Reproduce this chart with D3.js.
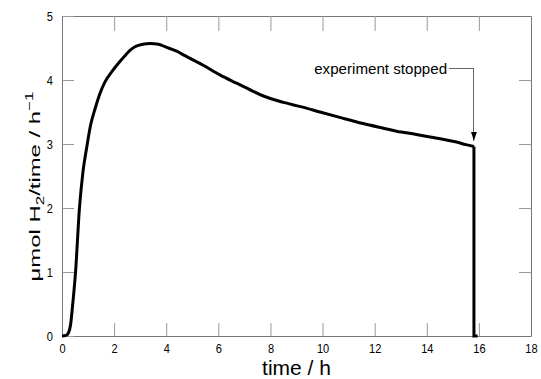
<!DOCTYPE html>
<html>
<head>
<meta charset="utf-8">
<script src="https://cdn.jsdelivr.net/npm/d3@7"></script>
<style>
  body { margin: 0; background: #fff; }
  svg { display: block; }
  .tick text { font-family: "Liberation Sans", Arial, sans-serif; font-size: 13px; fill: #000; }
</style>
</head>
<body>
<svg id="chart"></svg>
<script>
// H2 production rate over time
const timeH = [0, 0.15, 0.25, 0.33, 0.4, 0.52, 0.67, 0.8, 0.95, 1.1, 1.27, 1.45, 1.65, 1.95, 2.29,
  2.6, 2.8, 3.1, 3.38, 3.7, 3.95, 4.4, 4.72, 5.42, 6.06, 6.7, 7.3, 7.73, 8.5, 9.2, 9.9, 10.8,
  11.56, 12.3, 12.84, 13.6, 14.25, 14.8, 15.14, 15.5, 15.81];
const rate = [0, 0.01, 0.05, 0.18, 0.45, 1.0, 2.0, 2.55, 2.95, 3.3, 3.55, 3.78, 3.97, 4.15, 4.32,
  4.46, 4.52, 4.56, 4.57, 4.56, 4.52, 4.45, 4.38, 4.23, 4.08, 3.95, 3.83, 3.75, 3.65, 3.58, 3.5, 3.4,
  3.32, 3.25, 3.2, 3.15, 3.1, 3.06, 3.03, 2.99, 2.96];
// drop to zero when the experiment was stopped
const stopTime = [15.81, 15.81, 15.95];
const stopRate = [2.96, 0, 0];

const xTicks = [0, 2, 4, 6, 8, 10, 12, 14, 16, 18];
const yTicks = [0, 1, 2, 3, 4, 5];

// annotation "experiment stopped"
const noteText = "experiment stopped";
const noteTextEnd = [14.78, 4.09];
const noteLeader = [[14.85, 4.18], [15.81, 4.18], [15.81, 3.05]];

const margin = { top: 16, right: 10, bottom: 43, left: 62 };
const W = 541, H = 379;
const width = W - margin.left - margin.right;
const height = H - margin.top - margin.bottom;

const svg = d3.select("#chart").attr("width", W).attr("height", H);
const g = svg.append("g").attr("transform", "translate(" + margin.left + "," + margin.top + ")");

const x = d3.scaleLinear().domain([0, 18]).range([0, width]);
const y = d3.scaleLinear().domain([0, 5]).range([height, 0]);

const narrow = 0.85; // tick labels in the picture are a narrow face

function styleAxis(sel) {
  sel.select(".domain").attr("stroke", "#777");
  sel.selectAll(".tick line").attr("stroke", "#999");
  sel.selectAll(".tick text").attr("transform", "scale(" + narrow + ",1)");
}

// bottom
g.append("g").attr("transform", "translate(0," + height + ")")
  .call(d3.axisBottom(x).tickValues(xTicks).tickSizeInner(-13).tickSizeOuter(0).tickPadding(8))
  .call(styleAxis);
// top
g.append("g")
  .call(d3.axisTop(x).tickValues(xTicks.slice(1, -1)).tickSizeInner(-15).tickSizeOuter(0).tickFormat(""))
  .call(styleAxis);
// left
g.append("g")
  .call(d3.axisLeft(y).tickValues(yTicks).tickFormat(d3.format("d")).tickSizeInner(-12).tickSizeOuter(0).tickPadding(9 / narrow))
  .call(styleAxis);
// right
g.append("g").attr("transform", "translate(" + width + ",0)")
  .call(d3.axisRight(y).tickValues(yTicks.slice(1, -1)).tickSizeInner(-12).tickSizeOuter(0).tickFormat(""))
  .call(styleAxis);

// curve
const curveData = timeH.map((t, i) => [t, rate[i]]);
const line = d3.line().x(d => x(d[0])).y(d => y(d[1]));
g.append("path")
  .datum(curveData)
  .attr("fill", "none")
  .attr("stroke", "#000")
  .attr("stroke-width", 3)
  .attr("stroke-linejoin", "round")
  .attr("d", line.curve(d3.curveMonotoneX));

const stopData = stopTime.map((t, i) => [t, stopRate[i]]);
g.append("path")
  .datum(stopData)
  .attr("fill", "none")
  .attr("stroke", "#000")
  .attr("stroke-width", 3)
  .attr("d", d3.line().x(d => x(d[0])).y(d => y(d[1]))(stopData));

// annotation
svg.append("defs").append("marker")
  .attr("id", "arrow")
  .attr("viewBox", "0 0 9 6")
  .attr("refX", 9).attr("refY", 3)
  .attr("markerWidth", 9).attr("markerHeight", 6)
  .attr("markerUnits", "userSpaceOnUse")
  .attr("orient", "auto")
  .append("path").attr("d", "M0,0 L9,3 L0,6 Z").attr("fill", "#000");

g.append("path")
  .datum(noteLeader)
  .attr("fill", "none")
  .attr("stroke", "#666")
  .attr("stroke-width", 1)
  .attr("shape-rendering", "crispEdges")
  .attr("marker-end", "url(#arrow)")
  .attr("d", d3.line().x(d => x(d[0])).y(d => y(d[1])));

const note = g.append("text")
  .attr("font-family", "'Liberation Sans', Arial, sans-serif")
  .attr("font-size", 15)
  .attr("text-anchor", "end")
  .text(noteText);
const noteLen = note.node().getComputedTextLength();
note.attr("transform", "translate(" + x(noteTextEnd[0]) + "," + y(noteTextEnd[1]) + ") scale(" + (133 / noteLen) + ",1)");

// axis titles
g.append("text")
  .attr("x", width / 2)
  .attr("y", height + 38.5)
  .attr("text-anchor", "middle")
  .attr("font-family", "'Liberation Sans', Arial, sans-serif")
  .attr("font-size", 21)
  .text("time / h");

const yTitle = svg.append("text")
  .attr("text-anchor", "middle")
  .attr("font-family", "'Liberation Sans', Arial, sans-serif")
  .attr("font-size", 15.5);
yTitle.append("tspan").text("\u03bcmol H");
yTitle.append("tspan").attr("font-size", 11).attr("dy", 4).text("2");
yTitle.append("tspan").attr("dy", -4).text("/time  / h");
yTitle.append("tspan").attr("font-size", 11).attr("dy", -7).text("\u22121");
const yLen = yTitle.node().getComputedTextLength();
yTitle.attr("transform", "translate(39.5,186.5) rotate(-90) scale(" + (190 / yLen) + ",1)");
</script>
</body>
</html>
